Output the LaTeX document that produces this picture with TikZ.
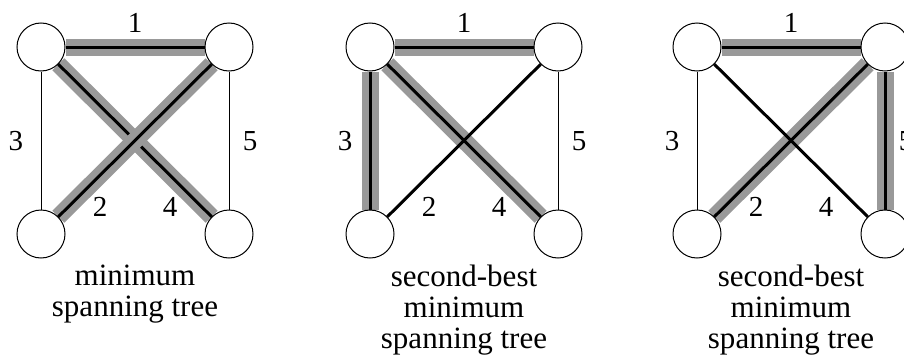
\documentclass[tikz,border=0pt]{standalone}
\usepackage{fontspec}
\setmainfont{Liberation Serif}
\usetikzlibrary{backgrounds}
\tikzset{
  % vertices
  vtx/.style={circle, draw, line width=1pt, fill=white, minimum size=48pt, inner sep=0pt},
  % weights and captions
  wlabel/.style={font=\fontsize{29}{31}\selectfont, inner sep=0pt},
  caption/.style={font=\fontsize{31}{31}\selectfont, align=center, inner sep=0pt},
  % edges
  plainedge/.style={line width=1pt},
  crossedge/.style={line width=3pt},
  treeedge/.style={line width=3pt, preaction={draw=gray!80, line width=17pt}},
}
\begin{document}
\begin{tikzpicture}[x=1pt, y=-1pt]
  \useasboundingbox (0,0) rectangle (904,356);
  \clip (0,0) rectangle (904,356);
  % --- minimum spanning tree ---
  \begin{scope}[shift={(0,0)}]
    \node[vtx] (a1) at (41,47) {};
    \node[vtx] (b1) at (229,47) {};
    \node[vtx] (c1) at (41,234) {};
    \node[vtx] (d1) at (229,234) {};
    \begin{scope}[on background layer]
      \draw[treeedge] (a1) -- (b1);
      \draw[treeedge] (a1) -- (d1);
      \draw[treeedge] (c1) -- (b1);
      \draw[plainedge] (a1) -- (c1);
      \draw[plainedge] (b1) -- (d1);
    \end{scope}
    \node[wlabel] (w1a) at (135,23) {1};
    \node[wlabel] (w3a) at (16,141) {3};
    \node[wlabel] (w5a) at (250,141) {5};
    \node[wlabel] (w2a) at (100,207) {2};
    \node[wlabel] (w4a) at (170,207) {4};
    \node[caption, anchor=base] (cap1) at (135,316) {minimum\\spanning tree};
  \end{scope}
  % --- second-best, edge 2 swapped for 3 ---
  \begin{scope}[shift={(329,0)}]
    \node[vtx] (a2) at (41,47) {};
    \node[vtx] (b2) at (229,47) {};
    \node[vtx] (c2) at (41,234) {};
    \node[vtx] (d2) at (229,234) {};
    \begin{scope}[on background layer]
      \draw[treeedge] (a2) -- (b2);
      \draw[treeedge] (a2) -- (d2);
      \draw[treeedge] (a2) -- (c2);
      \draw[crossedge] (c2) -- (b2);
      \draw[plainedge] (b2) -- (d2);
    \end{scope}
    \node[wlabel] (w1b) at (135,23) {1};
    \node[wlabel] (w3b) at (16,141) {3};
    \node[wlabel] (w5b) at (250,141) {5};
    \node[wlabel] (w2b) at (100,207) {2};
    \node[wlabel] (w4b) at (170,207) {4};
    \node[caption, anchor=base] (cap2) at (135,348) {second-best\\minimum\\spanning tree};
  \end{scope}
  % --- second-best, edge 4 swapped for 5 ---
  \begin{scope}[shift={(656,0)}]
    \node[vtx] (a3) at (41,47) {};
    \node[vtx] (b3) at (229,47) {};
    \node[vtx] (c3) at (41,234) {};
    \node[vtx] (d3) at (229,234) {};
    \begin{scope}[on background layer]
      \draw[treeedge] (a3) -- (b3);
      \draw[treeedge] (c3) -- (b3);
      \draw[treeedge] (b3) -- (d3);
      \draw[crossedge] (a3) -- (d3);
      \draw[plainedge] (a3) -- (c3);
    \end{scope}
    \node[wlabel] (w1c) at (135,23) {1};
    \node[wlabel] (w3c) at (16,141) {3};
    \node[wlabel] (w5c) at (250,141) {5};
    \node[wlabel] (w2c) at (100,207) {2};
    \node[wlabel] (w4c) at (170,207) {4};
    \node[caption, anchor=base] (cap3) at (135,348) {second-best\\minimum\\spanning tree};
  \end{scope}
\end{tikzpicture}
\end{document}
